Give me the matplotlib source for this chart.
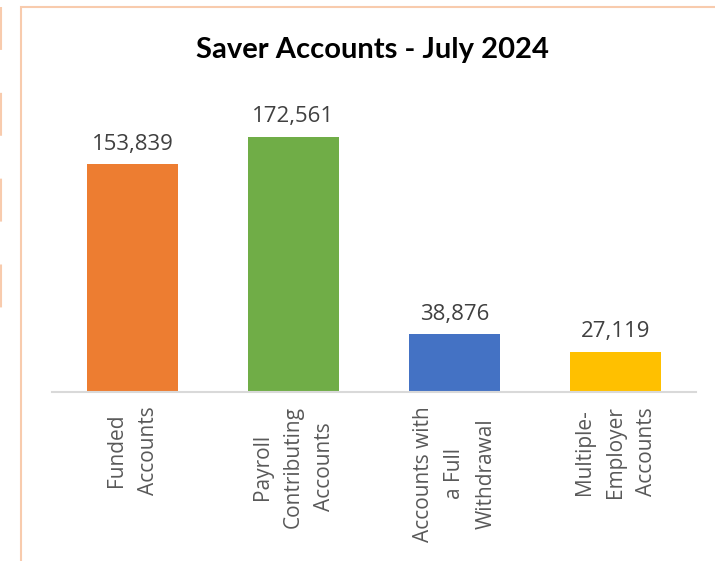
import matplotlib.pyplot as plt
from matplotlib.patches import Rectangle
from matplotlib.lines import Line2D

plt.rcParams['font.family'] = ['Open Sans', 'DejaVu Sans']

categories = ['Funded\nAccounts', 'Payroll\nContributing\nAccounts',
              'Accounts with\na Full\nWithdrawal', 'Multiple-\nEmployer\nAccounts']
values = [153839, 172561, 38876, 27119]
colors = ['#ED7D31', '#70AD47', '#4472C4', '#FFC000']

fig = plt.figure(figsize=(7.15, 5.61), dpi=100)
ax = fig.add_axes([52 / 715, 1 - 392 / 561, 644 / 715, 296 / 561])

x = range(len(values))
bars = ax.bar(x, values, width=0.57, color=colors, zorder=2)
for b, v in zip(bars, values):
    ax.annotate(f'{v:,}', (b.get_x() + b.get_width() / 2, v), xytext=(0, 7),
                textcoords='offset points', ha='center', va='bottom',
                fontsize=16, color='#404040')

ax.set_xlim(-0.5, 3.5)
ax.set_ylim(0, 200000)
ax.set_yticks([])
ax.set_xticks(list(x))
ax.set_xticklabels(categories, rotation=90, ha='center', va='top',
                   multialignment='center', fontsize=15, color='#595959',
                   linespacing=1.65)
ax.tick_params(axis='x', length=0, pad=10)
for s in ['top', 'right', 'left']:
    ax.spines[s].set_visible(False)
ax.spines['bottom'].set_color('#D9D9D9')
ax.spines['bottom'].set_linewidth(1.5)

fig.text(372 / 715, 1 - 50 / 561, 'Saver Accounts - July 2024', ha='center',
         va='center', fontsize=21, fontweight='bold', color='black',
         family=['Lato', 'DejaVu Sans'])

# chart frame
fig.add_artist(Rectangle((21 / 715, -0.05), 1.0, 1 - 7 / 561 + 0.05,
                         transform=fig.transFigure, fill=False,
                         edgecolor='#F8CBAD', linewidth=1.5))
fig.add_artist(Line2D([0.5 / 715, 0.5 / 715], [1 - 7 / 561, 1 - 310 / 561],
                      transform=fig.transFigure, color='#F8CBAD',
                      linewidth=1.5, linestyle=(0, (20.6, 20.6))))

fig.savefig('out.png', dpi=100)
